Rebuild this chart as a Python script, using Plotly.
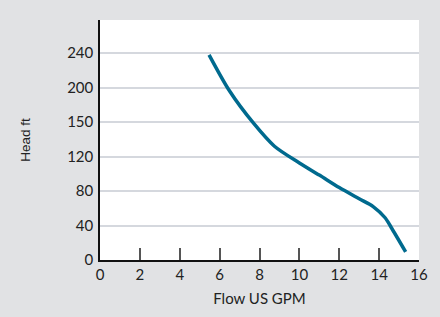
import numpy as np
import plotly.graph_objects as go

# Data
flow_gpm = [5.47, 6.5, 7.7, 8.75, 10.0, 11.0, 12.0, 13.0, 13.7, 14.3, 14.6, 15.33]
head_ft = [238, 195, 149, 129, 112.6, 98.5, 84, 71, 62, 49, 38, 9.4]

# Y axis labels are evenly spaced on the chart although their values are not
y_tick_labels = [0, 40, 80, 120, 150, 200, 240]
x_tick_vals = [0, 2, 4, 6, 8, 10, 12, 14, 16]

y_positions = list(range(len(y_tick_labels)))
y_plot = np.interp(head_ft, y_tick_labels, y_positions)

tick_font = dict(family="Lato, Open Sans, sans-serif", size=15, color="#222222")

fig = go.Figure()
fig.add_trace(go.Scatter(
    x=flow_gpm, y=y_plot, mode="lines",
    line=dict(color="#006a8e", width=3.5, shape="spline", smoothing=0.8),
    hoverinfo="skip", showlegend=False,
))

fig.update_layout(
    width=440, height=317,
    margin=dict(l=100, r=20, t=20, b=49),
    paper_bgcolor="#e1e2e4",
    plot_bgcolor="#ffffff",
    xaxis=dict(
        range=[0, 16], tickvals=x_tick_vals, ticks="inside", ticklen=12,
        tickwidth=1.5, tickcolor="#555555", showgrid=False, zeroline=False,
        showline=True, linecolor="#111111", linewidth=1.5,
        tickfont=tick_font,
        title=dict(text="Flow US GPM", font=dict(family="Lato, Open Sans, sans-serif", size=15, color="#222222"), standoff=12),
    ),
    yaxis=dict(
        range=[0, 6.96], tickvals=y_positions, ticktext=[str(v) for v in y_tick_labels],
        ticks="", showgrid=True, gridcolor="#d5d8de", gridwidth=1.5, zeroline=False,
        showline=True, linecolor="#111111", linewidth=1.5,
        tickfont=tick_font, ticklabelstandoff=2,
        title=dict(text="Head ft", font=dict(family="Liberation Sans, Arial, sans-serif", size=13.5, color="#222222"), standoff=33),
    ),
)

fig.write_html(
    "out.html",
    config={"displayModeBar": False},
    post_script="document.body.style.margin='0';document.body.style.padding='0';",
)
